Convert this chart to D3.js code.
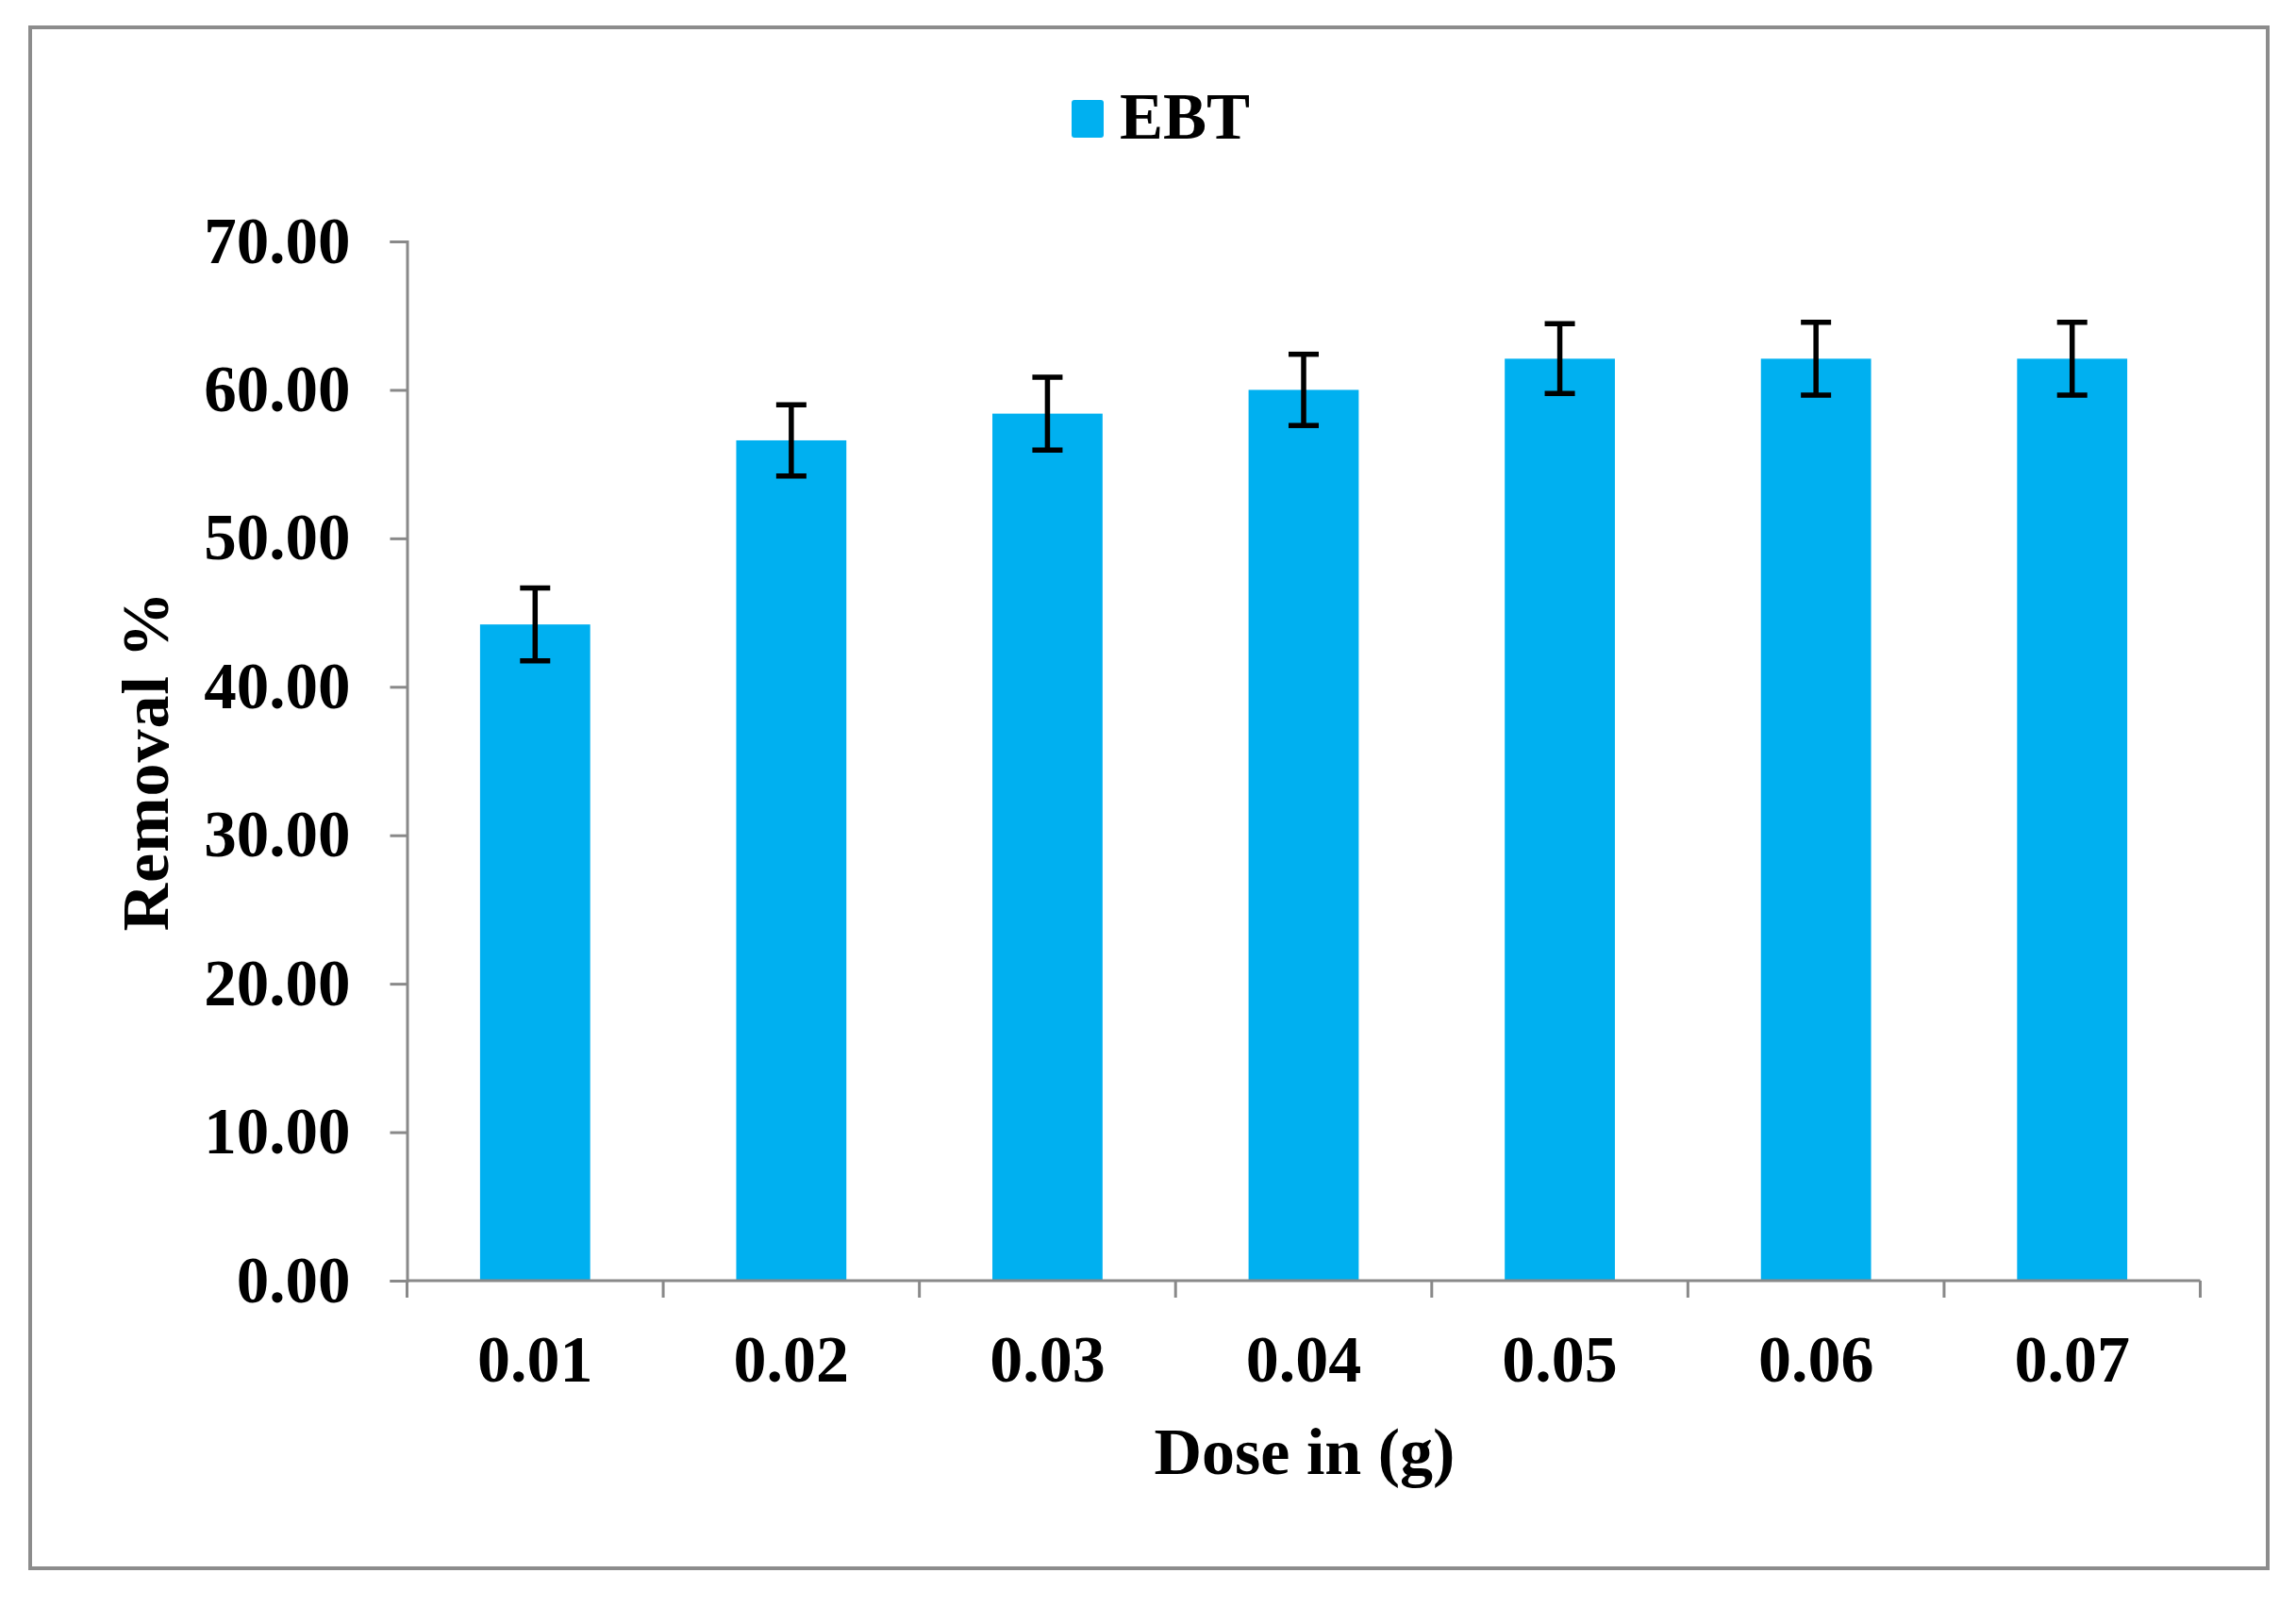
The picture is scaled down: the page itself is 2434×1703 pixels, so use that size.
<!DOCTYPE html>
<html>
<head>
<meta charset="utf-8">
<script src="https://cdn.jsdelivr.net/npm/d3@7"></script>
<style>
  html, body { margin: 0; padding: 0; background: #fff; }
  svg text { font-family: "Liberation Serif", "Times New Roman", serif; font-weight: bold; fill: #000; }
</style>
</head>
<body>
<svg id="chart" width="2434" height="1703"></svg>
<script>
// ---- data ----
const categories = ["0.01", "0.02", "0.03", "0.04", "0.05", "0.06", "0.07"];
const removal = [44.2, 56.6, 58.4, 60.0, 62.1, 62.1, 62.1];
const errors = [2.45, 2.4, 2.45, 2.4, 2.35, 2.45, 2.45];
const yTicks = [0, 10, 20, 30, 40, 50, 60, 70];
const seriesName = "EBT";
const xTitle = "Dose in (g)";
const yTitle = "Removal %";

// ---- layout ----
const svg = d3.select("#chart");
const plot = { left: 431.5, right: 2332.5, top: 256, bottom: 1358 };
const barColor = "#00B0F0";
const axisColor = "#898989";

// outer frame
svg.append("rect")
  .attr("x", 32).attr("y", 29)
  .attr("width", 2372).attr("height", 1634)
  .attr("fill", "#fff")
  .attr("stroke", "#8c8c8c").attr("stroke-width", 4);

const x = d3.scaleBand()
  .domain(categories)
  .range([plot.left, plot.right])
  .paddingInner(0.57)
  .paddingOuter(0.285);

const y = d3.scaleLinear()
  .domain([0, 70])
  .range([plot.bottom, plot.top]);

// bars
svg.append("g").selectAll("rect")
  .data(categories)
  .join("rect")
  .attr("x", d => x(d))
  .attr("width", x.bandwidth())
  .attr("y", (d, i) => y(removal[i]))
  .attr("height", (d, i) => y(0) - y(removal[i]))
  .attr("fill", barColor);

// error bars
const eg = svg.append("g").attr("stroke", "#000").attr("stroke-width", 5.5);
categories.forEach((c, i) => {
  const cx = x(c) + x.bandwidth() / 2;
  const yt = y(removal[i] + errors[i]);
  const yb = y(removal[i] - errors[i]);
  eg.append("line").attr("x1", cx).attr("x2", cx).attr("y1", yt).attr("y2", yb);
  eg.append("line").attr("x1", cx - 16).attr("x2", cx + 16).attr("y1", yt).attr("y2", yt);
  eg.append("line").attr("x1", cx - 16).attr("x2", cx + 16).attr("y1", yb).attr("y2", yb);
});

// y axis
const yAxis = d3.axisLeft(y)
  .tickValues(yTicks)
  .tickFormat(d3.format(".2f"))
  .tickSize(18)
  .tickPadding(42);
const gy = svg.append("g").attr("transform", `translate(${plot.left},0)`).call(yAxis);
gy.select(".domain").attr("stroke", axisColor).attr("stroke-width", 3);
gy.selectAll(".tick line").attr("stroke", axisColor).attr("stroke-width", 3);
gy.selectAll(".tick text")
  .attr("font-size", 69)
  .attr("font-family", "Liberation Serif")
  .attr("font-weight", "bold")
  .attr("fill", "#000");

// x axis: ticks at category boundaries
const boundaries = d3.range(categories.length + 1);
const xb = d3.scaleLinear().domain([0, categories.length]).range([plot.left, plot.right]);
const gx = svg.append("g").attr("transform", `translate(0,${plot.bottom})`);
gx.append("line")
  .attr("x1", plot.left).attr("x2", plot.right)
  .attr("y1", 0).attr("y2", 0)
  .attr("stroke", axisColor).attr("stroke-width", 3);
gx.selectAll("line.tk").data(boundaries).join("line")
  .attr("class", "tk")
  .attr("x1", d => xb(d)).attr("x2", d => xb(d))
  .attr("y1", 0).attr("y2", 18)
  .attr("stroke", axisColor).attr("stroke-width", 3);
gx.selectAll("text").data(categories).join("text")
  .attr("x", d => x(d) + x.bandwidth() / 2)
  .attr("y", 107)
  .attr("text-anchor", "middle")
  .attr("font-size", 70)
  .text(d => d);

// axis titles
svg.append("text")
  .attr("x", 1383).attr("y", 1563)
  .attr("text-anchor", "middle")
  .attr("font-size", 70)
  .text(xTitle);

svg.append("text")
  .attr("transform", `translate(178,807) rotate(-90)`)
  .attr("text-anchor", "middle")
  .attr("font-size", 70)
  .attr("letter-spacing", 1)
  .text(yTitle);

// legend
svg.append("rect")
  .attr("x", 1136).attr("y", 106)
  .attr("width", 34).attr("height", 40)
  .attr("rx", 3)
  .attr("fill", barColor);
svg.append("text")
  .attr("x", 1187).attr("y", 147)
  .attr("font-size", 69)
  .text(seriesName);
</script>
</body>
</html>
